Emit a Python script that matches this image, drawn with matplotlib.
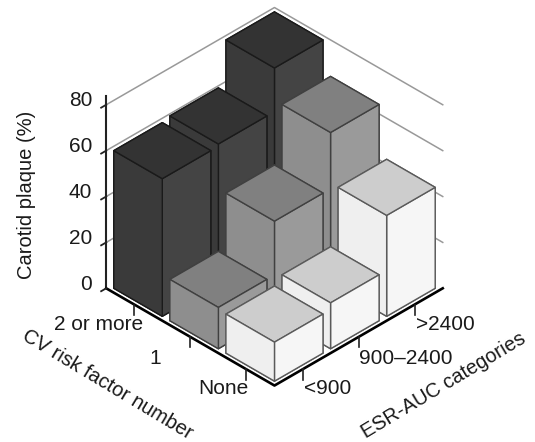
import matplotlib
matplotlib.use('Agg')
import numpy as np
import matplotlib.pyplot as plt

plt.rcParams['font.family'] = ['Liberation Sans', 'DejaVu Sans']

esr_labels = ['<900', '900–2400', '>2400']
risk_labels = ['None', '1', '2 or more']
plaque_none = [17, 20, 44]
plaque_one = [18, 41.5, 66]
plaque_two = [60, 61, 80]
z_ticks = [0, 20, 40, 60, 80]

# top, left side, right side, edge for each risk row
row_colors = [('#cdcdcd', '#efefef', '#f6f6f6', '#5a5a5a'),
              ('#808080', '#8e8e8e', '#9a9a9a', '#404040'),
              ('#333333', '#3a3a3a', '#444444', '#1a1a1a')]

W, H = 535, 442
fig = plt.figure(figsize=(W / 100, H / 100), dpi=100)
ax = fig.add_axes([1 / W, 18.5 / H, 1, 1], projection='3d', computed_zorder=False)
ax.set_proj_type('ortho')
ax.view_init(elev=35.3, azim=-135)
ax.set_box_aspect((1, 1, 0.945), zoom=0.889)
ax.set_xlim(0, 3, view_margin=0)
ax.set_ylim(0, 3, view_margin=0)
ax.set_zlim(0, 80, view_margin=0)
ax.set_axis_off()
ax.patch.set_alpha(0)

bar_w = 0.865
gap = (1 - bar_w) / 2
table = [plaque_none, plaque_one, plaque_two]
for r, row in reversed(list(enumerate(table))):
    top, left, right, edge = row_colors[r]
    for e, val in reversed(list(enumerate(row))):
        faces = [top, top, right, right, left, left]
        ax.bar3d(e + gap, r + gap, 0, bar_w, bar_w, val, color=faces, shade=False,
                 edgecolor=edge, linewidth=1.0, zorder=10 + (3 - e) + (3 - r))

# back wall lines
for z in z_ticks[1:]:
    ax.plot([0, 3, 3], [3, 3, 0], [z, z, z], color='#999999', lw=1.1, zorder=1)

# axes lines
ax.plot([0, 0], [3, 3], [0, 84], color='#222222', lw=1.5, zorder=30)
ax.plot([0, 0, 3], [3, 0, 0], [0, 0, 0], color='black', lw=1.9, zorder=30)

for z in z_ticks:
    ax.plot([0, -0.09], [3, 3], [z, z], color='#222222', lw=1.3, zorder=30)
    fig.text(92 / W, 1 - (284 - z * 2.29) / H, str(z), ha='right', va='center', fontsize=15, color='#1a1a1a')

for i in range(3):
    ax.plot([0, 0], [i + 0.5, i + 0.5], [0, -4.5], color='#222222', lw=1.2, zorder=30)
    ax.plot([i + 0.5, i + 0.5], [0, 0], [0, -4.5], color='#222222', lw=1.2, zorder=30)

# tick labels sit unevenly in the original so they are placed by hand
risk_pos = [(223, 388), (155, 359), (99, 324)]
esr_pos = [(328, 389), (406, 359), (445, 324)]
for lab, (px, py) in zip(risk_labels, risk_pos):
    fig.text(px / W, 1 - py / H, lab, ha='center', va='center', fontsize=15, color='#1a1a1a')
for lab, (px, py) in zip(esr_labels, esr_pos):
    fig.text(px / W, 1 - py / H, lab, ha='center', va='center', fontsize=15, color='#1a1a1a')

fig.text(27 / W, 1 - 195 / H, 'Carotid plaque (%)', rotation=90, ha='center', va='center',
         fontsize=14.5, color='#1a1a1a')
fig.text(107 / W, 1 - 385 / H, 'CV risk factor number', rotation=-31, ha='center', va='center',
         rotation_mode='anchor', fontsize=14.5, color='#1a1a1a')
fig.text(444 / W, 1 - 385.5 / H, 'ESR-AUC categories', rotation=31, ha='center', va='center',
         rotation_mode='anchor', fontsize=14.4, color='#1a1a1a')

fig.savefig('out.png', dpi=100)
